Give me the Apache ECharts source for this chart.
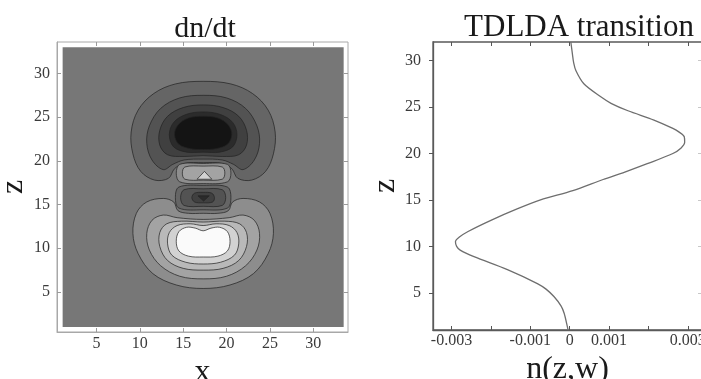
<!DOCTYPE html>
<html><head><meta charset="utf-8">
<script src="https://cdn.jsdelivr.net/npm/echarts@6/dist/echarts.min.js"></script>
<style>html,body{margin:0;padding:0;background:#fff}#c{width:701px;height:379px}</style>
</head><body><div id="c"></div>
<script>
// ---------------- data ----------------
const xTicks = [5, 10, 15, 20, 25, 30];
const zTicksLeft = [5, 10, 15, 20, 25, 30];
const zTicksRight = [5, 10, 15, 20, 25, 30];
const nTicks = [-0.003, -0.002, -0.001, 0, 0.001, 0.002, 0.003];
const nLabelValues = [-0.003, -0.001, 0, 0.001, 0.003];
const nLabelTexts = ['-0.003', '-0.001', '0', '0.001', '0.003'];

// TDLDA transition density n(z,w) versus z
const zCurve = [1.0, 1.4, 2.8, 3.6, 4.6, 5.4, 6.0, 7.5, 8.9, 9.6, 10.0, 10.5, 11.0, 11.6, 12.8, 14.0, 15.0, 16.0,
                17.2, 18.0, 18.9, 20.0, 20.6, 21.2, 21.8, 22.3, 22.7, 23.6, 24.6, 25.4, 26.1, 27.5, 28.9, 29.8, 30.7, 32.0];
const nCurve = [-0.00004, -0.00006, -0.00014, -0.00022, -0.00040, -0.00060, -0.00082, -0.00158, -0.00243, -0.00278,
                -0.00287, -0.00290, -0.00280, -0.00258, -0.00200, -0.00135, -0.00074, 0.00008,
                0.00085, 0.00140, 0.00197, 0.00262, 0.00283, 0.00292, 0.00291, 0.00278, 0.00262, 0.00214, 0.00148,
                0.00105, 0.00079, 0.00036, 0.00016, 0.00010, 0.00007, 0.00003];

// dn/dt contour map: region outlines [x, z], with their contour level
const plotRange = [[1.1, 1.0], [33.5, 1.0], [33.5, 33.0], [1.1, 33.0]];
const topLobe1 = [[17.3,29.1],[20.5,28.8],[23.0,27.7],[24.8,25.8],[25.6,23.3],[25.4,20.8],[24.5,18.8],[22.9,17.8],[21.3,18.0],[20.6,19.1],[19.5,19.7],[17.3,19.8],[15.1,19.7],[14.0,19.1],[13.3,18.0],[11.7,17.8],[10.1,18.8],[9.2,20.8],[9.0,23.3],[9.8,25.8],[11.6,27.7],[14.1,28.8]];
const topLobe2 = [[17.3,27.5],[20.0,27.2],[22.2,26.0],[23.5,24.0],[23.8,22.0],[23.2,20.1],[21.9,19.0],[20.8,19.6],[19.5,20.1],[17.3,20.2],[15.1,20.1],[13.8,19.6],[12.7,19.0],[11.4,20.1],[10.8,22.0],[11.1,24.0],[12.4,26.0],[14.6,27.2]];
const topLobe3 = [[17.3,26.4],[19.6,26.1],[21.4,25.1],[22.3,23.5],[22.3,21.8],[21.4,20.7],[19.5,20.5],[17.3,20.6],[15.1,20.5],[13.2,20.7],[12.3,21.8],[12.3,23.5],[13.2,25.1],[15.0,26.1]];
const topLobe4 = [[17.3,25.6],[19.3,25.3],[20.7,24.4],[21.2,23.0],[20.7,21.6],[19.2,21.0],[17.3,21.0],[15.4,21.0],[13.9,21.6],[13.4,23.0],[13.9,24.4],[15.3,25.3]];
const topLobe5 = [[17.3,25.1],[19.0,24.9],[20.2,24.1],[20.6,23.0],[20.1,21.9],[18.8,21.4],[17.3,21.3],[15.8,21.4],[14.5,21.9],[14.0,23.0],[14.4,24.1],[15.6,24.9]];
const bottomLobe1 = [[17.3,5.4],[20.4,5.8],[23.1,7.1],[24.8,9.4],[25.4,11.7],[25.0,14.0],[23.8,15.3],[21.9,15.7],[20.7,15.3],[20.2,14.3],[19.0,14.0],[17.3,14.0],[15.6,14.0],[14.4,14.3],[13.9,15.3],[12.7,15.7],[10.8,15.3],[9.6,14.0],[9.2,11.7],[9.8,9.4],[11.5,7.1],[14.2,5.8]];
const bottomLobe2 = [[17.3,6.5],[20.0,6.8],[22.2,8.0],[23.5,9.8],[23.8,11.7],[23.2,13.2],[21.9,13.8],[20.3,13.5],[17.3,13.3],[14.3,13.5],[12.7,13.8],[11.4,13.2],[10.8,11.7],[11.1,9.8],[12.4,8.0],[14.6,6.8]];
const bottomLobe3 = [[17.3,7.5],[19.6,7.7],[21.4,8.6],[22.3,10.2],[22.3,11.8],[21.5,12.8],[19.8,13.1],[17.3,13.0],[14.8,13.1],[13.1,12.8],[12.3,11.8],[12.3,10.2],[13.2,8.6],[15.0,7.7]];
const bottomLobe4 = [[17.3,8.2],[19.3,8.4],[20.9,9.2],[21.4,10.5],[21.2,11.8],[20.3,12.6],[18.8,12.8],[17.3,12.6],[15.8,12.8],[14.3,12.6],[13.4,11.8],[13.2,10.5],[13.7,9.2],[15.3,8.4]];
const bottomLobe5 = [[17.3,9.0],[19.0,9.1],[20.1,9.7],[20.4,10.8],[20.1,11.9],[19.2,12.4],[18.2,12.3],[17.3,12.0],[16.4,12.3],[15.4,12.4],[14.5,11.9],[14.2,10.8],[14.5,9.7],[15.6,9.1]];
const lightBand1 = [[14.6,17.6],[17.3,17.4],[20.1,17.6],[20.5,18.6],[20.1,19.6],[17.3,19.7],[14.6,19.6],[14.2,18.6]];
const lightBand2 = [[15.2,17.9],[17.3,17.8],[19.5,17.9],[19.8,18.6],[19.5,19.3],[17.3,19.4],[15.2,19.3],[14.9,18.6]];
const lightBand3 = [[16.6,17.9],[18.3,17.9],[17.45,18.8]];
const darkBand1 = [[14.5,14.6],[17.3,14.4],[20.1,14.6],[20.5,15.8],[20.1,17.0],[17.3,17.2],[14.5,17.0],[14.1,15.8]];
const darkBand2 = [[15.1,14.9],[17.3,14.8],[19.5,14.9],[19.9,15.8],[19.5,16.7],[17.3,16.8],[15.1,16.7],[14.7,15.8]];
const darkBand3 = [[16.3,15.3],[17.3,15.2],[18.4,15.3],[18.6,15.8],[18.3,16.3],[17.3,16.4],[16.3,16.3],[16.0,15.8]];
const darkBand4 = [[16.7,16.0],[18.0,16.0],[17.35,15.4]];
const regionLevels = [0, -1, -2, -3, -4, -5, 1, 2, 3, 4, 5, 1, 2, 4, -1, -2, -3, -4];

// ---------------- styles ----------------
const levelColors = {'-5':'#141414','-4':'#2b2b2b','-3':'#404040','-2':'#535353','-1':'#656565','0':'#777777',
                     '1':'#8d8d8d','2':'#a3a3a3','3':'#b9b9b9','4':'#d2d2d2','5':'#fafafa'};
const regions = [plotRange, topLobe1, topLobe2, topLobe3, topLobe4, topLobe5,
                 bottomLobe1, bottomLobe2, bottomLobe3, bottomLobe4, bottomLobe5,
                 lightBand1, lightBand2, lightBand3, darkBand1, darkBand2, darkBand3, darkBand4];
const SERIF = '"Liberation Serif","DejaVu Serif",serif';

const chart = echarts.init(document.getElementById('c'), null, {renderer: 'canvas'});

function renderRegion(params, api) {
  const i = params.dataIndex;
  const pts = regions[i].map(p => api.coord(p));
  const lvl = regionLevels[i];
  const isBg = i === 0;
  return {
    type: 'polygon',
    shape: {points: pts, smooth: isBg || pts.length < 4 ? 0 : 0.35},
    style: {fill: levelColors[String(lvl)], stroke: isBg ? null : 'rgba(35,35,35,0.8)', lineWidth: isBg ? 0 : 0.9}
  };
}

const leftTickStyle = {show: true, inside: true, length: 4, lineStyle: {color: '#9a9a9a', width: 1}};
const rightTickStyle = {show: true, inside: true, length: 4, lineStyle: {color: '#555', width: 1}};
const tickFont = {fontFamily: SERIF, fontSize: 16, color: '#3a3a3a'};

const option = {
  animation: false,
  backgroundColor: '#ffffff',
  title: [
    {text: 'dn/dt', left: 200, top: 9, textAlign: 'center',
     textStyle: {fontFamily: SERIF, fontSize: 30, fontWeight: 'normal', color: '#1a1a1a'}},
    {text: 'TDLDA transition', left: 574, top: 7, textAlign: 'center',
     textStyle: {fontFamily: SERIF, fontSize: 31, fontWeight: 'normal', color: '#1a1a1a'}}
  ],
  grid: [
    {left: 57, top: 42, width: 291, height: 290, outerBoundsMode: 'none', containLabel: false,
     show: true, borderColor: '#a8a8a8', borderWidth: 1, backgroundColor: 'transparent'},
    {left: 433, top: 42, width: 269, height: 288, outerBoundsMode: 'none', containLabel: false,
     show: true, borderColor: '#5a5a5a', borderWidth: 1.3, backgroundColor: 'transparent'}
  ],
  xAxis: [
    {gridIndex: 0, type: 'value', position: 'bottom', min: 0.45, max: 34.0,
     axisLine: {show: true, onZero: false, lineStyle: {color: '#a8a8a8'}},
     axisTick: Object.assign({customValues: xTicks}, leftTickStyle),
     axisLabel: Object.assign({customValues: xTicks, margin: 4}, tickFont),
     splitLine: {show: false},
     name: 'x', nameLocation: 'middle', nameGap: 17,
     nameTextStyle: {fontFamily: SERIF, fontSize: 32, color: '#1a1a1a'}},
    {gridIndex: 0, type: 'value', position: 'top', min: 0.45, max: 34.0,
     axisLine: {show: false, onZero: false}, axisTick: Object.assign({customValues: xTicks}, leftTickStyle),
     axisLabel: {show: false}, splitLine: {show: false}},
    {gridIndex: 1, type: 'value', position: 'bottom', min: -0.00347, max: 0.00336,
     axisLine: {show: true, onZero: false, lineStyle: {color: '#5a5a5a', width: 1.3}},
     axisTick: Object.assign({customValues: nTicks}, rightTickStyle),
     axisLabel: Object.assign({customValues: nLabelValues, margin: 3,
                 formatter: v => { const k = nLabelValues.findIndex(t => Math.abs(t - v) < 1e-9); return k >= 0 ? nLabelTexts[k] : ''; }}, tickFont),
     splitLine: {show: false},
     name: 'n(z,w)', nameLocation: 'middle', nameGap: 16,
     nameTextStyle: {fontFamily: SERIF, fontSize: 32, color: '#1a1a1a'}},
    {gridIndex: 1, type: 'value', position: 'top', min: -0.00347, max: 0.00336,
     axisLine: {show: false, onZero: false}, axisTick: Object.assign({customValues: nTicks}, rightTickStyle),
     axisLabel: {show: false}, splitLine: {show: false}}
  ],
  yAxis: [
    {gridIndex: 0, type: 'value', position: 'left', min: 0.42, max: 33.6,
     axisLine: {show: true, onZero: false, lineStyle: {color: '#a8a8a8'}},
     axisTick: Object.assign({customValues: zTicksLeft}, leftTickStyle),
     axisLabel: Object.assign({customValues: zTicksLeft, margin: 7}, tickFont),
     splitLine: {show: false},
     name: 'z', nameLocation: 'middle', nameGap: 27, nameRotate: 90,
     nameTextStyle: {fontFamily: SERIF, fontSize: 32, color: '#1a1a1a'}},
    {gridIndex: 0, type: 'value', position: 'right', min: 0.42, max: 33.6,
     axisLine: {show: false, onZero: false}, axisTick: Object.assign({customValues: zTicksLeft}, leftTickStyle),
     axisLabel: {show: false}, splitLine: {show: false}},
    {gridIndex: 1, type: 'value', position: 'left', min: 1, max: 32,
     axisLine: {show: true, onZero: false, lineStyle: {color: '#5a5a5a', width: 1.3}},
     axisTick: {show: true, inside: false, length: 4, customValues: zTicksRight, lineStyle: {color: '#555'}},
     axisLabel: Object.assign({customValues: zTicksRight, margin: 12}, tickFont),
     splitLine: {show: false},
     name: 'z', nameLocation: 'middle', nameGap: 26, nameRotate: 90,
     nameTextStyle: {fontFamily: SERIF, fontSize: 32, color: '#1a1a1a'}},
    {gridIndex: 1, type: 'value', position: 'right', min: 1, max: 32,
     axisLine: {show: false, onZero: false},
     axisTick: {show: true, inside: true, length: 4, customValues: zTicksRight, lineStyle: {color: '#c8c8c8'}},
     axisLabel: {show: false}, splitLine: {show: false}}
  ],
  series: [
    {type: 'custom', xAxisIndex: 0, yAxisIndex: 0, clip: true,
     data: regions.map((r, i) => [r[0][0], r[0][1], i]),
     encode: {x: 0, y: 1},
     renderItem: renderRegion, silent: true},
    {type: 'line', xAxisIndex: 2, yAxisIndex: 2, showSymbol: false, smooth: 0.3,
     data: zCurve.map((z, i) => [nCurve[i], z]),
     lineStyle: {color: '#6e6e6e', width: 1.3}, silent: true}
  ]
};
chart.setOption(option);
</script>
</body></html>
